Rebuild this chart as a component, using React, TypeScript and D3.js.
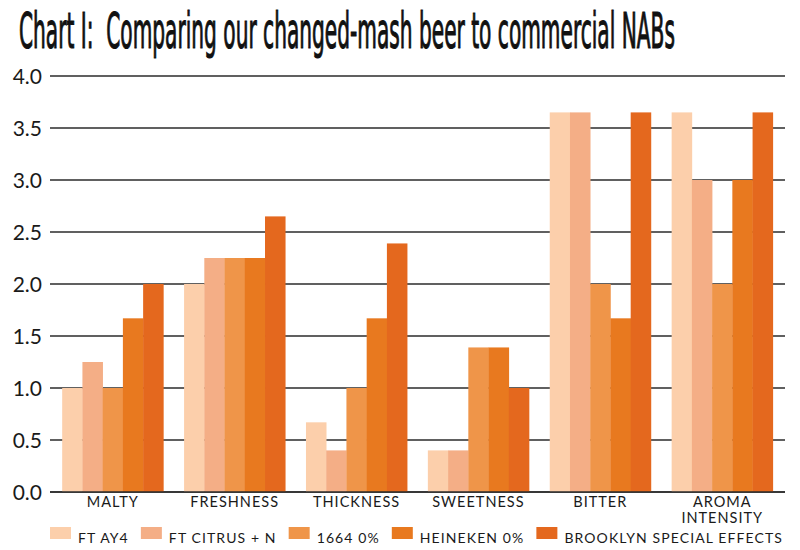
import React, { useEffect, useRef } from 'react';
import * as d3 from 'd3';

// attributes on the x axis
const categories = ['MALTY', 'FRESHNESS', 'THICKNESS', 'SWEETNESS', 'BITTER', 'AROMA INTENSITY'];

// one list per beer, same order as categories
const ftAy4 = [1.0, 2.0, 0.67, 0.4, 3.65, 3.65];
const ftCitrus = [1.25, 2.25, 0.4, 0.4, 3.65, 3.0];
const beer1664 = [1.0, 2.25, 1.0, 1.39, 2.0, 2.0];
const heineken = [1.67, 2.25, 1.67, 1.39, 1.67, 3.0];
const brooklyn = [2.0, 2.65, 2.39, 1.0, 3.65, 3.65];

const seriesNames = ['FT AY4', 'FT CITRUS + N', '1664 0%', 'HEINEKEN 0%', 'BROOKLYN SPECIAL EFFECTS'];
const seriesValues = [ftAy4, ftCitrus, beer1664, heineken, brooklyn];
const seriesColors = ['#fccfab', '#f4ae86', '#ef9549', '#e8791f', '#e4681e'];

const yTicks = [0, 0.5, 1, 1.5, 2, 2.5, 3, 3.5, 4];

const W = 800;
const H = 550;

const App: React.FC = () => {
  const svgRef = useRef<SVGSVGElement>(null);

  useEffect(() => {
    if (!svgRef.current) return;
    const svg = d3.select(svgRef.current);
    svg.selectAll('*').remove();

    const left = 50;
    const right = 785;
    const top = 76;
    const bottom = 492;

    const x0 = d3.scaleBand().domain(categories).range([left, right]).paddingInner(0.17).paddingOuter(0.1);
    const x1 = d3.scaleBand().domain(seriesNames).range([0, x0.bandwidth()]).padding(0);
    const y = d3.scaleLinear().domain([0, 4]).range([bottom, top]);

    const sansFont = 'Lato, "Noto Sans", sans-serif';

    // title, squeezed to the width of the original via a horizontal scale
    const titleG = svg.append('g');
    const title = titleG.append('text')
      .attr('x', 0)
      .attr('y', 0)
      .attr('font-family', '"Liberation Sans Narrow", "DejaVu Sans Condensed", "Roboto Condensed", sans-serif')
      .attr('font-stretch', 'condensed')
      .attr('font-size', 50)
      .attr('fill', '#111')
      .attr('stroke', '#111')
      .attr('stroke-width', 1.1)
      .style('white-space', 'pre')
      .text('Chart I:  Comparing our changed-mash beer to commercial NABs');
    const natural = (title.node() as SVGTextElement).getComputedTextLength();
    titleG.attr('transform', `translate(19,47.5) scale(${656 / natural},1)`);

    // gridlines behind bars
    svg.append('g')
      .selectAll('line')
      .data(yTicks)
      .join('line')
      .attr('x1', left)
      .attr('x2', right)
      .attr('y1', d => y(d))
      .attr('y2', d => y(d))
      .attr('stroke', '#2b2b2b')
      .attr('stroke-width', 1.3);

    // tick labels
    svg.append('g')
      .selectAll('text')
      .data(yTicks)
      .join('text')
      .attr('x', 42)
      .attr('y', d => y(d))
      .attr('dy', '0.36em')
      .attr('text-anchor', 'end')
      .attr('font-family', sansFont)
      .attr('font-size', 21)
      .attr('fill', '#1a1a1a')
      .text(d => d.toFixed(1));

    // bars
    const groups = svg.append('g')
      .selectAll('g')
      .data(categories)
      .join('g')
      .attr('transform', d => `translate(${x0(d)},0)`);

    groups.selectAll('rect')
      .data((c, ci) => seriesNames.map((s, si) => ({ s, v: seriesValues[si][ci], color: seriesColors[si] })))
      .join('rect')
      .attr('x', d => x1(d.s) || 0)
      .attr('y', d => y(d.v))
      .attr('width', x1.bandwidth() + 0.3)
      .attr('height', d => y(0) - y(d.v))
      .attr('fill', d => d.color);

    // baseline on top of bars
    svg.append('line')
      .attr('x1', left)
      .attr('x2', right)
      .attr('y1', y(0))
      .attr('y2', y(0))
      .attr('stroke', '#2b2b2b')
      .attr('stroke-width', 1.3);

    // category labels, long names wrap onto a second line
    const catG = svg.append('g');
    categories.forEach(c => {
      const words = c.length > 12 ? c.split(' ') : [c];
      const cx = (x0(c) || 0) + x0.bandwidth() / 2;
      words.forEach((w, i) => {
        catG.append('text')
          .attr('x', cx)
          .attr('y', 507 + i * 16)
          .attr('text-anchor', 'middle')
          .attr('font-family', sansFont)
          .attr('font-size', 14.5)
          .attr('letter-spacing', 1)
          .attr('fill', '#1a1a1a')
          .text(w);
      });
    });

    // legend, spread between left and right edges
    const legendY = 538;
    const sw = 21;
    const swH = 12;
    const gapText = 7;
    const legend = svg.append('g');
    const items = seriesNames.map((name, i) => {
      const g = legend.append('g');
      g.append('rect')
        .attr('width', sw)
        .attr('height', swH)
        .attr('y', legendY - swH + 1)
        .attr('fill', seriesColors[i]);
      const txt = g.append('text')
        .attr('x', sw + gapText)
        .attr('y', legendY + 5)
        .attr('font-family', sansFont)
        .attr('font-size', 14)
        .attr('letter-spacing', 1.1)
        .attr('fill', '#1a1a1a')
        .text(name);
      const tw = (txt.node() as SVGTextElement).getComputedTextLength();
      return { g, w: sw + gapText + tw };
    });
    const totalW = d3.sum(items, d => d.w);
    const legendLeft = 50;
    const legendRight = 783;
    const gap = (legendRight - legendLeft - totalW) / (items.length - 1);
    let cursor = legendLeft;
    items.forEach(it => {
      it.g.attr('transform', `translate(${cursor},0)`);
      cursor += it.w + gap;
    });
  }, []);

  return (
    <svg
      ref={svgRef}
      width={W}
      height={H}
      style={{ position: 'absolute', left: 0, top: 0, background: '#fff' }}
    />
  );
};

export default App;
